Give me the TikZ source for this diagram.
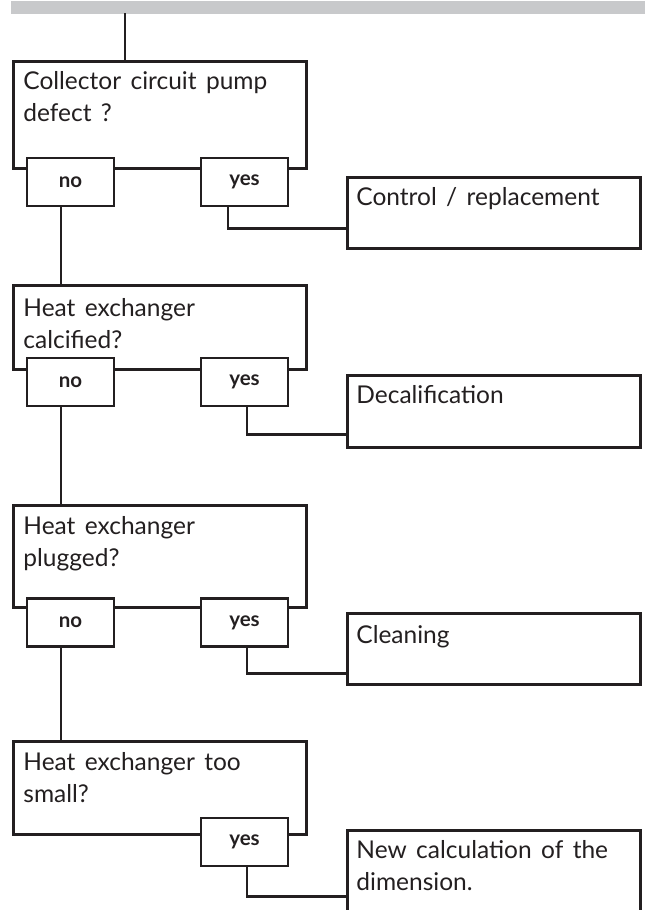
\documentclass[tikz,border=0pt]{standalone}
\usepackage{fontspec}
\setmainfont{Lato}[WordSpace=1.5]
\usepackage{xcolor}
\usepackage{tikz}
\usetikzlibrary{positioning}

\definecolor{ink}{RGB}{35,31,32}
\definecolor{barfill}{RGB}{200,201,203}

\begin{document}
\begin{tikzpicture}[
  x=1pt, y=-1pt, line width=2.8pt, ink,
  font=\fontsize{24.5}{32}\selectfont,
  bar/.style={fill=barfill, anchor=north west, inner sep=0, minimum width=635, minimum height=13},
  qbox/.style={draw, fill=white, anchor=north west, inner sep=0, minimum width=293},
  act/.style={draw, fill=white, anchor=north west, inner sep=0, minimum width=293},
  ans/.style={draw, fill=white, inner sep=0, minimum width=87, minimum height=48, font=\fontsize{20.5}{20.5}\selectfont\bfseries},
  txt/.style={anchor=base west, align=left, inner sep=0}]
  \useasboundingbox (0,0) rectangle (645,910);
  \node[bar] (bar) at (10,0) {};
  \coordinate (in) at (125,13);

  \node[qbox, minimum height=107] (q1) at (12,60) {};
  \node[txt] (q1t) at ([shift={(10,61)}]q1.north west) {Collector circuit pump\\defect ?};
  \node[ans] (no1) at (70.5,182) {no};
  \node[ans] (yes1) at (244.5,182) {yes};
  \node[act, minimum height=71] (act1) at (346,176) {};
  \node[txt] (act1t) at ([shift={(9,29)}]act1.north west) {Control / replacement};

  \node[qbox, minimum height=84] (q2) at (12,284) {};
  \node[txt] (q2t) at ([shift={(10,64)}]q2.north west) {Heat exchanger\\calcified?};
  \node[ans] (no2) at (70.5,382) {no};
  \node[ans] (yes2) at (244.5,382) {yes};
  \node[act, minimum height=72] (act2) at (346,374) {};
  \node[txt] (act2t) at ([shift={(9,29)}]act2.north west) {Decalification};

  \node[qbox, minimum height=102] (q3) at (12,504) {};
  \node[txt] (q3t) at ([shift={(10,62)}]q3.north west) {Heat exchanger\\plugged?};
  \node[ans] (no3) at (70.5,622.5) {no};
  \node[ans] (yes3) at (244.5,622.5) {yes};
  \node[act, minimum height=71] (act3) at (346,612) {};
  \node[txt] (act3t) at ([shift={(9,31)}]act3.north west) {Cleaning};

  \node[qbox, minimum height=93] (q4) at (12,740) {};
  \node[txt] (q4t) at ([shift={(10,62)}]q4.north west) {Heat exchanger too\\small?};
  \node[ans] (yes4) at (244.5,842) {yes};
  \node[act, minimum height=100] (act4) at (346,829) {};
  \node[txt] (act4t) at ([shift={(9,61)}]act4.north west) {New calculation of the\\dimension.};

  \draw (in) -- (in |- q1.north);
  \draw ([xshift=-9.5pt]no1.south) -- ([xshift=-9.5pt]no1.south |- q2.north);
  \draw ([xshift=-9.5pt]no2.south) -- ([xshift=-9.5pt]no2.south |- q3.north);
  \draw ([xshift=-9.5pt]no3.south) -- ([xshift=-9.5pt]no3.south |- q4.north);
  \draw ([xshift=-16.5pt]yes1.south) |- ([yshift=-15.5pt]act1.west);
  \draw ([xshift=2.5pt]yes2.south) |- ([yshift=-23pt]act2.west);
  \draw ([xshift=2.5pt]yes3.south) |- ([yshift=-24.5pt]act3.west);
  \draw ([xshift=2.5pt]yes4.south) |- ([yshift=-16pt]act4.west);
\end{tikzpicture}
\end{document}
